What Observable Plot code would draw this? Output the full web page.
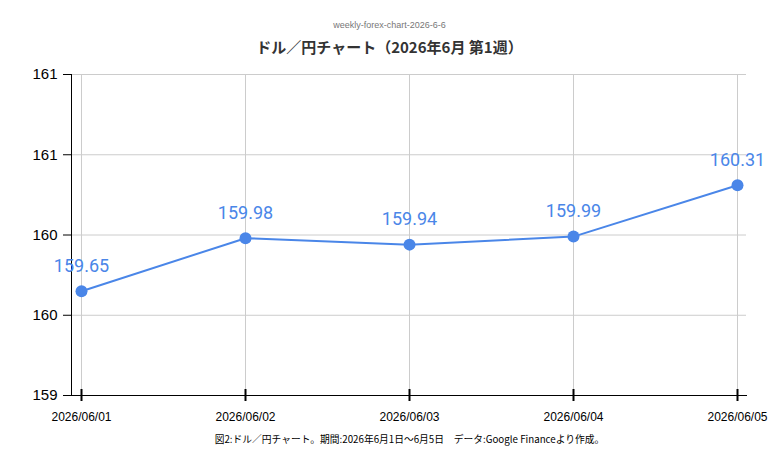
<!DOCTYPE html>
<html><head><meta charset="utf-8">
<script src="https://cdn.jsdelivr.net/npm/d3@7"></script>
<script src="https://cdn.jsdelivr.net/npm/@observablehq/plot@0.6"></script>
<style>
body{margin:0;background:#fff;}
#wrap{position:relative;width:779px;height:468px;overflow:hidden;background:#fff;}
#chart{position:absolute;left:0;top:0;}
.t{position:absolute;left:0;width:779px;text-align:center;white-space:nowrap;}
#sub{top:20px;font:9px "Liberation Sans",Arial,sans-serif;color:#777;}
#title{top:36px;font:bold 15px "Noto Sans CJK JP","Liberation Sans",sans-serif;color:#333;}
#cap{top:432px;left:20px;font:9.75px "Noto Sans CJK JP","Liberation Sans",sans-serif;color:#000;}
</style></head>
<body>
<div id="wrap">
  <div id="chart"></div>
  <div class="t" id="sub">weekly-forex-chart-2026-6-6</div>
  <div class="t" id="title">ドル／円チャート（2026年6月 第1週）</div>
  <div class="t" id="cap">図2:ドル／円チャート。期間:2026年6月1日～6月5日　データ:Google Financeより作成。</div>
</div>
<script>
const dates = ["2026/06/01","2026/06/02","2026/06/03","2026/06/04","2026/06/05"];
const rates = [159.65, 159.98, 159.94, 159.99, 160.31];
const yTicks = [159, 159.5, 160, 160.5, 161];
const yTickLabels = ["159","160","160","161","161"];

const data = dates.map((d, i) => ({date: d, rate: rates[i]}));
const blue = "#4a86e8";

const chart = Plot.plot({
  width: 779,
  height: 468,
  marginTop: 74,
  marginBottom: 73,
  marginLeft: 71,
  marginRight: 33,
  style: {background: "#fff", overflow: "visible"},
  x: {type: "point", domain: dates, range: [81, 737], padding: 0, label: null},
  y: {domain: [159, 161], label: null},
  marks: [
    Plot.gridY(yTicks, {stroke: "#cccccc", strokeOpacity: 1}),
    Plot.gridX(dates, {stroke: "#cccccc", strokeOpacity: 1}),
    Plot.frame({anchor: "left", stroke: "#000"}),
    Plot.frame({anchor: "bottom", stroke: "#000"}),
    Plot.axisY(yTicks, {
      tickSize: 8, tickPadding: 6, fontSize: 15,
      fontFamily: "Liberation Sans, Arial, sans-serif",
      tickFormat: d => yTickLabels[yTicks.indexOf(d)], label: null
    }),
    Plot.axisX(dates, {tickSize: 12, dy: -6, strokeWidth: 2, tickFormat: () => "", label: null}),
    Plot.axisX(dates, {tickSize: 0, tickPadding: 14, dy: 3, fontSize: 12,
      fontFamily: "Liberation Sans, Arial, sans-serif", label: null}),
    Plot.line(data, {x: "date", y: "rate", stroke: blue, strokeWidth: 2}),
    Plot.dot(data, {x: "date", y: "rate", r: 6, fill: blue, stroke: "none"}),
    Plot.text(data, {x: "date", y: "rate", text: d => d.rate.toFixed(2), dy: -25,
      fill: blue, fontSize: 18, fontFamily: "Roboto, sans-serif"})
  ]
});
document.getElementById("chart").appendChild(chart);
</script>
</body></html>
